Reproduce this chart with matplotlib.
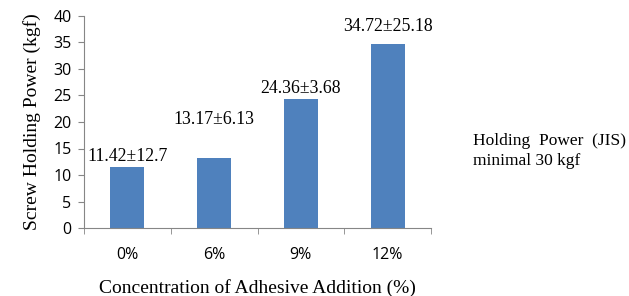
import matplotlib.pyplot as plt
import numpy as np

categories = ['0%', '6%', '9%', '12%']
values = [11.42, 13.17, 24.36, 34.72]
labels = ['11.42\u00b112.7', '13.17\u00b16.13', '24.36\u00b13.68', '34.72\u00b125.18']
label_y = [13.4, 20.4, 26.4, 38.1]  # where the annotation text sits

serif = 'Liberation Serif'
sans = 'Open Sans'

fig = plt.figure(figsize=(6.29, 2.96), dpi=100)
ax = fig.add_axes([84 / 629, 1 - 228 / 296, (431 - 84) / 629, (228 - 16) / 296])

x = np.arange(len(categories))
ax.bar(x, values, width=0.39, color='#4f81bd', zorder=2)

for xi, lab, ly in zip(x, labels, label_y):
    ax.text(xi, ly, lab, ha='center', va='center', family=serif, fontsize=12.8)

ax.set_xlim(-0.5, len(categories) - 0.5)
ax.set_ylim(0, 40)
ax.set_yticks(np.arange(0, 41, 5))
ax.set_xticks(x)
ax.set_xticklabels(categories, family=sans, fontsize=11.5)
ax.tick_params(axis='x', length=0, pad=14)
ax.set_xticks(np.arange(-0.5, len(categories)), minor=True)
ax.tick_params(axis='x', which='minor', length=4, color='#868686')
ax.tick_params(axis='y', length=4, color='#868686', labelsize=11.5, pad=5)
for t in ax.get_yticklabels():
    t.set_family(sans)

for s in ['top', 'right']:
    ax.spines[s].set_visible(False)
for s in ['left', 'bottom']:
    ax.spines[s].set_color('#868686')

ax.set_ylabel('Screw Holding Power (kgf)', family=serif, fontsize=14, labelpad=9)
ax.set_xlabel('Concentration of Adhesive Addition (%)', family=serif, fontsize=14, labelpad=11)

fig.text(473 / 629, 1 - 151 / 296, 'Holding  Power  (JIS)\nminimal 30 kgf',
         family=serif, fontsize=12.5, va='center', ha='left', linespacing=1.3)

fig.savefig('out.png', dpi=100)
